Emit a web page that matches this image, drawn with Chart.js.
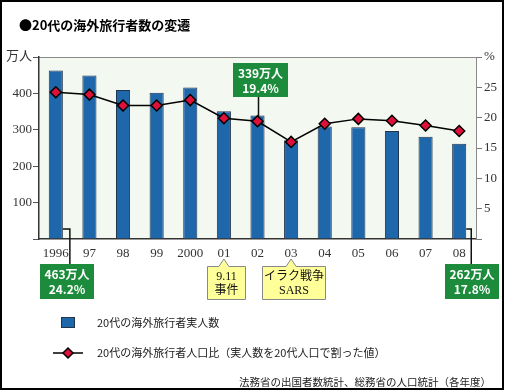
<!DOCTYPE html>
<html>
<head>
<meta charset="utf-8">
<script src="https://cdn.jsdelivr.net/npm/chart.js@4"></script>
<style>
  html, body { margin: 0; padding: 0; background: #fff; }
  canvas { display: block; }
</style>
</head>
<body>
<canvas id="myChart" width="506" height="392"></canvas>
<script>
const years = ['1996', '97', '98', '99', '2000', '01', '02', '03', '04', '05', '06', '07', '08']
const travelers = [463, 449, 409, 402, 416, 351, 339, 271, 309, 307, 297, 281, 262]
const ratio = [24.2, 23.8, 22.0, 22.0, 22.9, 19.9, 19.4, 16.0, 19.0, 19.8, 19.5, 18.7, 17.8]
const leftTicks = { 500: '万人', 400: '400', 300: '300', 200: '200', 100: '100' }
const rightTicks = { 30: '%', 25: '25', 20: '20', 15: '15', 10: '10', 5: '5' }

const JP = '"Noto Sans CJK JP", "Noto Sans", sans-serif'
const SERIF = '"Liberation Serif", "DejaVu Serif", serif'
const barColor = '#1f67ab'
const green = '#1c8c3c'

// two text lines, about 15px apart, centred in the box
function twoLines(ctx, lines, cx, cy, gap) {
    ctx.fillText(lines[0], cx, cy - gap / 2)
    ctx.fillText(lines[1], cx, cy + gap / 2)
}

function box(ctx, x, y, w, h, lines) {
    ctx.save()
    ctx.fillStyle = green
    ctx.fillRect(x, y, w, h)
    ctx.fillStyle = '#fff'
    ctx.font = 'bold 12px ' + JP
    ctx.textAlign = 'center'
    ctx.textBaseline = 'middle'
    twoLines(ctx, lines, x + w / 2, y + h / 2 + 0.5, 15)
    ctx.restore()
}

function callout(ctx, x, y, w, h, tipX, tipY, lines) {
    ctx.save()
    ctx.beginPath()
    ctx.moveTo(x + 0.5, y + 0.5)
    ctx.lineTo(tipX - 5, y + 0.5)
    ctx.lineTo(tipX, tipY)
    ctx.lineTo(tipX + 5, y + 0.5)
    ctx.lineTo(x + w - 0.5, y + 0.5)
    ctx.lineTo(x + w - 0.5, y + h - 0.5)
    ctx.lineTo(x + 0.5, y + h - 0.5)
    ctx.closePath()
    ctx.fillStyle = '#ffff99'
    ctx.fill()
    ctx.strokeStyle = '#888'
    ctx.lineWidth = 1
    ctx.stroke()
    ctx.fillStyle = '#111'
    ctx.font = '12px ' + SERIF + ', ' + JP
    ctx.textAlign = 'center'
    ctx.textBaseline = 'middle'
    twoLines(ctx, lines, x + w / 2, y + h / 2 + 1, 14)
    ctx.restore()
}

function diamond(ctx, x, y, r) {
    ctx.beginPath()
    ctx.moveTo(x, y - r)
    ctx.lineTo(x + r, y)
    ctx.lineTo(x, y + r)
    ctx.lineTo(x - r, y)
    ctx.closePath()
    ctx.fillStyle = '#e0103c'
    ctx.fill()
    ctx.strokeStyle = '#000'
    ctx.lineWidth = 1.5
    ctx.stroke()
}

const decorations = {
    id: 'decorations',
    beforeDraw(chart) {
        const { ctx, chartArea: a } = chart
        ctx.save()
        ctx.fillStyle = '#fff'
        ctx.fillRect(0, 0, chart.width, chart.height)
        ctx.fillStyle = '#f3f8f0'
        ctx.fillRect(a.left, a.top, a.right - a.left, a.bottom - a.top)
        ctx.strokeStyle = '#8a8a8a'
        ctx.lineWidth = 1
        ctx.beginPath()
        ctx.moveTo(a.left, a.top + 0.5)
        ctx.lineTo(a.right, a.top + 0.5)
        ctx.stroke()
        ctx.restore()
    },
    afterDraw(chart) {
        const { ctx, chartArea: a } = chart
        const bars = chart.getDatasetMeta(0).data
        const pts = chart.getDatasetMeta(1).data
        ctx.save()

        // frame and title
        ctx.strokeStyle = '#000'
        ctx.lineWidth = 2
        ctx.strokeRect(1, 1, 502, 388)
        ctx.fillStyle = '#000'
        ctx.font = 'bold 13px ' + JP
        ctx.textBaseline = 'middle'
        ctx.fillText('●20代の海外旅行者数の変遷', 19, 25)

        // connectors
        ctx.strokeStyle = '#111'
        ctx.lineWidth = 1.5
        const b0 = bars[0]
        const cy = a.bottom - 10
        ctx.beginPath()
        ctx.moveTo(b0.x + b0.width / 2, cy)
        ctx.lineTo(b0.x + b0.width / 2 + 7, cy)
        ctx.lineTo(b0.x + b0.width / 2 + 7, 265)
        const bl = bars[bars.length - 1]
        ctx.moveTo(bl.x + bl.width / 2, cy)
        ctx.lineTo(bl.x + bl.width / 2 + 5, cy)
        ctx.lineTo(bl.x + bl.width / 2 + 5, 265)
        const p6 = pts[6]
        ctx.moveTo(p6.x + 1, 96)
        ctx.lineTo(p6.x + 1, p6.y - 5)
        ctx.stroke()

        // value boxes
        box(ctx, 40, 264, 54, 35, [travelers[0] + '万人', ratio[0].toFixed(1) + '%'])
        box(ctx, 233, 63, 55, 34, [travelers[6] + '万人', ratio[6].toFixed(1) + '%'])
        box(ctx, 445, 264, 54, 35, [travelers[12] + '万人', ratio[12].toFixed(1) + '%'])

        // event notes
        callout(ctx, 207, 266, 39, 34, bars[5].x, 259, ['9.11', '事件'])
        callout(ctx, 262, 266, 64, 34, bars[7].x, 259, ['イラク戦争', 'SARS'])

        // legend
        ctx.fillStyle = barColor
        ctx.fillRect(61, 317, 14, 11)
        ctx.strokeStyle = '#22354d'
        ctx.lineWidth = 1
        ctx.strokeRect(61.5, 317.5, 13, 10)
        ctx.strokeStyle = '#000'
        ctx.lineWidth = 1.5
        ctx.beginPath()
        ctx.moveTo(53, 353)
        ctx.lineTo(83, 353)
        ctx.stroke()
        diamond(ctx, 68, 353, 5)
        ctx.fillStyle = '#222'
        ctx.font = '11px ' + JP
        ctx.textAlign = 'left'
        ctx.fillText('20代の海外旅行者実人数', 97, 323)
        ctx.fillText('20代の海外旅行者人口比（実人数を20代人口で割った値）', 97, 353)
        ctx.font = '10.5px ' + JP
        ctx.textAlign = 'right'
        ctx.fillText('法務省の出国者数統計、総務省の人口統計（各年度）', 491, 382)
        ctx.restore()
    }
}

const config = {
    data: {
        labels: years,
        datasets: [{
            type: 'bar',
            label: '20代の海外旅行者実人数',
            data: travelers,
            yAxisID: 'y',
            backgroundColor: barColor,
            borderColor: '#22354d',
            borderWidth: 1,
            barPercentage: 0.42,
            categoryPercentage: 1,
            order: 2
        }, {
            type: 'line',
            label: '20代の海外旅行者人口比（実人数を20代人口で割った値）',
            data: ratio,
            yAxisID: 'y1',
            borderColor: '#000',
            borderWidth: 1.5,
            pointStyle: 'rectRot',
            pointRadius: 5.5,
            pointBackgroundColor: '#e0103c',
            pointBorderColor: '#000',
            pointBorderWidth: 1.5,
            tension: 0,
            order: 1
        }]
    },
    options: {
        responsive: false,
        animation: false,
        layout: { padding: { top: 57, left: 0, right: 0, bottom: 0 } },
        plugins: {
            legend: { display: false },
            tooltip: { enabled: false }
        },
        scales: {
            x: {
                grid: { display: false, drawTicks: false },
                border: { color: '#333', width: 1.5 },
                ticks: { color: '#333', font: { family: SERIF, size: 13 }, padding: 7, maxRotation: 0, autoSkip: false },
                afterFit(s) { s.height = 153 }
            },
            y: {
                position: 'left',
                min: 0,
                max: 500,
                grid: { drawOnChartArea: false, drawTicks: true, tickLength: 6, color: '#555' },
                border: { color: '#333', width: 1.5 },
                ticks: {
                    stepSize: 100,
                    padding: 1,
                    color: '#333',
                    font: { family: SERIF + ', ' + JP, size: 13 },
                    callback: v => leftTicks[v] || ''
                },
                afterFit(s) { s.width = 39 }
            },
            y1: {
                position: 'right',
                min: 0,
                max: 30,
                grid: { drawOnChartArea: false, drawTicks: true, tickLength: 6, color: '#777' },
                border: { color: '#8a8a8a', width: 1 },
                ticks: {
                    stepSize: 5,
                    padding: 2,
                    color: '#333',
                    font: { family: SERIF, size: 13 },
                    callback: v => rightTicks[v] || ''
                },
                afterFit(s) { s.width = 30 }
            }
        }
    },
    plugins: [decorations]
}

const canvas = document.getElementById('myChart')
let myChart
if (canvas) {
    myChart = new Chart(canvas, config)
}
</script>
</body>
</html>
